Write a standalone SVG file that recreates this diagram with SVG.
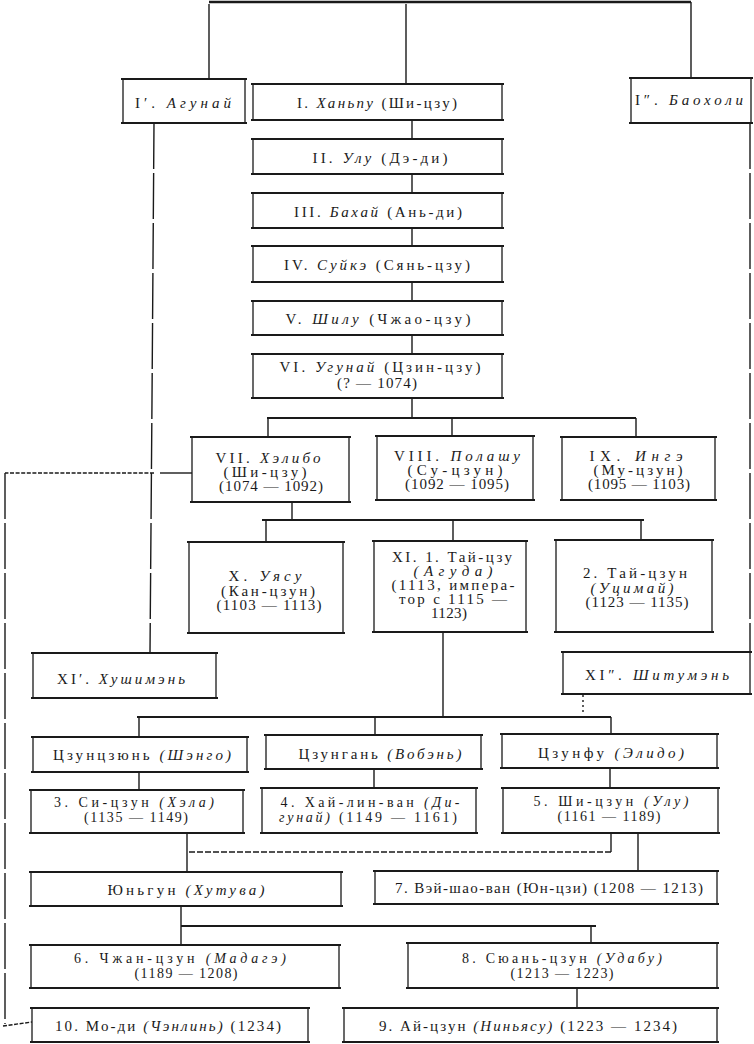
<svg xmlns="http://www.w3.org/2000/svg" width="754" height="1044" viewBox="0 0 754 1044">
<style>
.bx{fill:#fff;stroke:#1a1a1a;stroke-width:1.3}
.hb{fill:none;stroke:#1a1a1a;stroke-width:2.2}
.c{fill:none;stroke:#1a1a1a;stroke-width:1.4}
.bus{fill:none;stroke:#1a1a1a;stroke-width:1.9}
.top{stroke-width:2.6}
.brk{stroke-dasharray:46 4}
.dsh{stroke-dasharray:4 1.6}
.dsh2{stroke-dasharray:6 2}
.dot{stroke-dasharray:2 3}
text{font-family:"Liberation Serif","DejaVu Serif",serif;font-size:15px;fill:#1a1a1a;text-anchor:middle}
.s{font-size:14px}
.i{font-style:italic}
</style>
<rect width="754" height="1044" fill="#fff"/>
<g id="connectors">
<path class="bus top" d="M209 2H691"/>
<path class="c" d="M209 4V79M406 4V84M691 2V78"/>
<path class="c brk" d="M154 123L152 400L150 653"/>
<path class="c brk" d="M750 123V652"/>
<path class="c" d="M412 120V139M412 174V193M412 228V246M412 282V301M412 335V354M412 398V418"/>
<path class="bus" d="M267 418H636"/>
<path class="c" d="M268 418V437M452 418V436M636 418V437"/>
<path class="c" d="M292 502V520"/>
<path class="bus" d="M262 520H644"/>
<path class="c" d="M266 520V542M453 520V541M641 520V540"/>
<path class="c" d="M443 632V717"/>
<path class="bus" d="M137 717H611"/>
<path class="c" d="M139 717V737M375 717V735M611 717V734"/>
<path class="c dot" d="M583 695V713"/>
<path class="c" d="M139 772V790M374 769V788M610 768V788"/>
<path class="c" d="M187 833V872"/>
<path class="c" d="M611 833V852"/>
<path class="c dsh2" d="M611 852H187"/>
<path class="c" d="M638 833V871"/>
<path class="c" d="M181 906V945"/>
<path class="bus" d="M181 926H596"/>
<path class="c" d="M591 926V943"/>
<path class="c" d="M577 988V1008"/>
<path class="c" d="M192 473H160"/>
<path class="c dsh" d="M154 473H5"/>
<path class="c brk" d="M5 473V1024"/>
<path class="c dsh" d="M3 1026L32 1022"/>
</g>
<g id="n-agunai"><rect class="bx" x="123" y="79" width="122" height="44"/><path class="hb" d="M121 79H247M121 123H247"/>
<text x="183" y="108" textLength="96" lengthAdjust="spacing">I′. <tspan class="i">Агунай</tspan></text></g>
<g id="n-I"><rect class="bx" x="253" y="84" width="249" height="36"/><path class="hb" d="M251 84H504M251 120H504"/>
<text x="377" y="108" textLength="160" lengthAdjust="spacing">I. <tspan class="i">Ханьпу</tspan> (Ши-цзу)</text></g>
<g id="n-baoholi"><rect class="bx" x="631" y="78" width="120" height="45"/><path class="hb" d="M629 78H753M629 123H753"/>
<text x="689" y="105" textLength="108" lengthAdjust="spacing">I″. <tspan class="i">Баохоли</tspan></text></g>
<g id="n-II"><rect class="bx" x="253" y="139" width="249" height="35"/><path class="hb" d="M251 139H504M251 174H504"/>
<text x="380" y="163" textLength="135" lengthAdjust="spacing">II. <tspan class="i">Улу</tspan> (Дэ-ди)</text></g>
<g id="n-III"><rect class="bx" x="253" y="193" width="249" height="35"/><path class="hb" d="M251 193H504M251 228H504"/>
<text x="378" y="217" textLength="168" lengthAdjust="spacing">III. <tspan class="i">Бахай</tspan> (Ань-ди)</text></g>
<g id="n-IV"><rect class="bx" x="253" y="246" width="249" height="36"/><path class="hb" d="M251 246H504M251 282H504"/>
<text x="377" y="270" textLength="186" lengthAdjust="spacing">IV. <tspan class="i">Суйкэ</tspan> (Сянь-цзу)</text></g>
<g id="n-V"><rect class="bx" x="253" y="301" width="249" height="34"/><path class="hb" d="M251 301H504M251 335H504"/>
<text x="378" y="324" textLength="185" lengthAdjust="spacing">V. <tspan class="i">Шилу</tspan> (Чжао-цзу)</text></g>
<g id="n-VI"><rect class="bx" x="253" y="354" width="249" height="44"/><path class="hb" d="M251 354H504M251 398H504"/>
<text x="380" y="372" textLength="201" lengthAdjust="spacing">VI. <tspan class="i">Угунай</tspan> (Цзин-цзу)</text>
<text x="377" y="388" textLength="80" lengthAdjust="spacing">(? — 1074)</text></g>
<g id="n-VII"><rect class="bx" x="192" y="437" width="157" height="65"/><path class="hb" d="M190 437H351M190 502H351"/>
<text x="268" y="463" textLength="105" lengthAdjust="spacing">VII. <tspan class="i">Хэлибо</tspan></text>
<text x="265" y="477" textLength="83" lengthAdjust="spacing">(Ши-цзу)</text>
<text x="271" y="491" textLength="104" lengthAdjust="spacing">(1074 — 1092)</text></g>
<g id="n-VIII"><rect class="bx" x="377" y="436" width="156" height="64"/><path class="hb" d="M375 436H535M375 500H535"/>
<text x="457" y="461" textLength="126" lengthAdjust="spacing">VIII. <tspan class="i">Полашу</tspan></text>
<text x="455" y="475" textLength="95" lengthAdjust="spacing">(Су-цзун)</text>
<text x="457" y="489" textLength="104" lengthAdjust="spacing">(1092 — 1095)</text></g>
<g id="n-IX"><rect class="bx" x="562" y="437" width="153" height="63"/><path class="hb" d="M560 437H717M560 500H717"/>
<text x="636" y="461" textLength="93" lengthAdjust="spacing">IX. <tspan class="i">Ингэ</tspan></text>
<text x="638" y="475" textLength="89" lengthAdjust="spacing">(Му-цзун)</text>
<text x="639" y="489" textLength="102" lengthAdjust="spacing">(1095 — 1103)</text></g>
<g id="n-X"><rect class="bx" x="189" y="542" width="154" height="91"/><path class="hb" d="M187 542H345M187 633H345"/>
<text x="265" y="581" textLength="73" lengthAdjust="spacing">X. <tspan class="i">Уясу</tspan></text>
<text x="268" y="596" textLength="94" lengthAdjust="spacing">(Кан-цзун)</text>
<text x="269" y="610" textLength="105" lengthAdjust="spacing">(1103 — 1113)</text></g>
<g id="n-XI"><rect class="bx" x="374" y="541" width="152" height="91"/><path class="hb" d="M372 541H528M372 632H528"/>
<text x="452" y="562" textLength="120" lengthAdjust="spacing">XI. 1. Тай-цзу</text>
<text x="453" y="576" textLength="79" lengthAdjust="spacing" class="i">(Агуда)</text>
<text x="453" y="590" textLength="123" lengthAdjust="spacing">(1113, импера-</text>
<text x="453" y="604" textLength="108" lengthAdjust="spacing">тор с 1115 —</text>
<text x="449" y="618" textLength="36" lengthAdjust="spacing">1123)</text></g>
<g id="n-2"><rect class="bx" x="556" y="540" width="156" height="92"/><path class="hb" d="M554 540H714M554 632H714"/>
<text x="635" y="578" textLength="104" lengthAdjust="spacing">2. Тай-цзун</text>
<text x="632" y="593" textLength="83" lengthAdjust="spacing" class="i">(Уцимай)</text>
<text x="637" y="607" textLength="103" lengthAdjust="spacing">(1123 — 1135)</text></g>
<g id="n-hushimen"><rect class="bx" x="33" y="653" width="183" height="45"/><path class="hb" d="M31 653H218M31 698H218"/>
<text x="121" y="684" textLength="128" lengthAdjust="spacing">XI′. <tspan class="i">Хушимэнь</tspan></text></g>
<g id="n-shitumen"><rect class="bx" x="563" y="652" width="187" height="42"/><path class="hb" d="M561 652H752M561 694H752"/>
<text x="657" y="680" textLength="144" lengthAdjust="spacing">XI″. <tspan class="i">Шитумэнь</tspan></text></g>
<g id="n-tszuntszyun"><rect class="bx" x="33" y="737" width="214" height="35"/><path class="hb" d="M31 737H249M31 772H249"/>
<text x="142" y="760" textLength="178" lengthAdjust="spacing">Цзунцзюнь <tspan class="i">(Шэнго)</tspan></text></g>
<g id="n-tszungan"><rect class="bx" x="266" y="735" width="215" height="34"/><path class="hb" d="M264 735H483M264 769H483"/>
<text x="380" y="759" textLength="163" lengthAdjust="spacing">Цзунгань <tspan class="i">(Вобэнь)</tspan></text></g>
<g id="n-tszunfu"><rect class="bx" x="502" y="734" width="215" height="34"/><path class="hb" d="M500 734H719M500 768H719"/>
<text x="611" y="758" textLength="146" lengthAdjust="spacing">Цзунфу <tspan class="i">(Элидо)</tspan></text></g>
<g id="n-3"><rect class="bx" x="31" y="790" width="212" height="43"/><path class="hb" d="M29 790H245M29 833H245"/>
<text class="s" x="134" y="807" textLength="160" lengthAdjust="spacing">3. Си-цзун <tspan class="i">(Хэла)</tspan></text>
<text class="s" x="136" y="822" textLength="104" lengthAdjust="spacing">(1135 — 1149)</text></g>
<g id="n-4"><rect class="bx" x="262" y="788" width="214" height="45"/><path class="hb" d="M260 788H478M260 833H478"/>
<text class="s" x="370" y="807" textLength="179" lengthAdjust="spacing">4. Хай-лин-ван <tspan class="i">(Ди-</tspan></text>
<text class="s" x="368" y="822" textLength="178" lengthAdjust="spacing"><tspan class="i">гунай)</tspan> (1149 — 1161)</text></g>
<g id="n-5"><rect class="bx" x="503" y="788" width="215" height="45"/><path class="hb" d="M501 788H720M501 833H720"/>
<text class="s" x="611" y="806" textLength="155" lengthAdjust="spacing">5. Ши-цзун <tspan class="i">(Улу)</tspan></text>
<text class="s" x="609" y="821" textLength="103" lengthAdjust="spacing">(1161 — 1189)</text></g>
<g id="n-yungun"><rect class="bx" x="31" y="872" width="310" height="34"/><path class="hb" d="M29 872H343M29 906H343"/>
<text x="186" y="895" textLength="157" lengthAdjust="spacing">Юньгун <tspan class="i">(Хутува)</tspan></text></g>
<g id="n-7"><rect class="bx" x="375" y="871" width="342" height="33"/><path class="hb" d="M373 871H719M373 904H719"/>
<text x="549" y="893" textLength="308" lengthAdjust="spacing">7. Вэй-шао-ван (Юн-цзи) (1208 — 1213)</text></g>
<g id="n-6"><rect class="bx" x="31" y="945" width="308" height="43"/><path class="hb" d="M29 945H341M29 988H341"/>
<text class="s" x="180" y="963" textLength="212" lengthAdjust="spacing">6. Чжан-цзун <tspan class="i">(Мадагэ)</tspan></text>
<text class="s" x="186" y="978" textLength="103" lengthAdjust="spacing">(1189 — 1208)</text></g>
<g id="n-8"><rect class="bx" x="408" y="943" width="309" height="45"/><path class="hb" d="M406 943H719M406 988H719"/>
<text class="s" x="562" y="963" textLength="200" lengthAdjust="spacing">8. Сюань-цзун <tspan class="i">(Удабу)</tspan></text>
<text class="s" x="562" y="978" textLength="103" lengthAdjust="spacing">(1213 — 1223)</text></g>
<g id="n-10"><rect class="bx" x="32" y="1008" width="276" height="34"/><path class="hb" d="M30 1008H310M30 1042H310"/>
<text x="168" y="1031" textLength="226" lengthAdjust="spacing">10. Мо-ди <tspan class="i">(Чэнлинь)</tspan> (1234)</text></g>
<g id="n-9"><rect class="bx" x="344" y="1008" width="373" height="34"/><path class="hb" d="M342 1008H719M342 1042H719"/>
<text x="528" y="1031" textLength="298" lengthAdjust="spacing">9. Ай-цзун <tspan class="i">(Ниньясу)</tspan> (1223 — 1234)</text></g>
</svg>
